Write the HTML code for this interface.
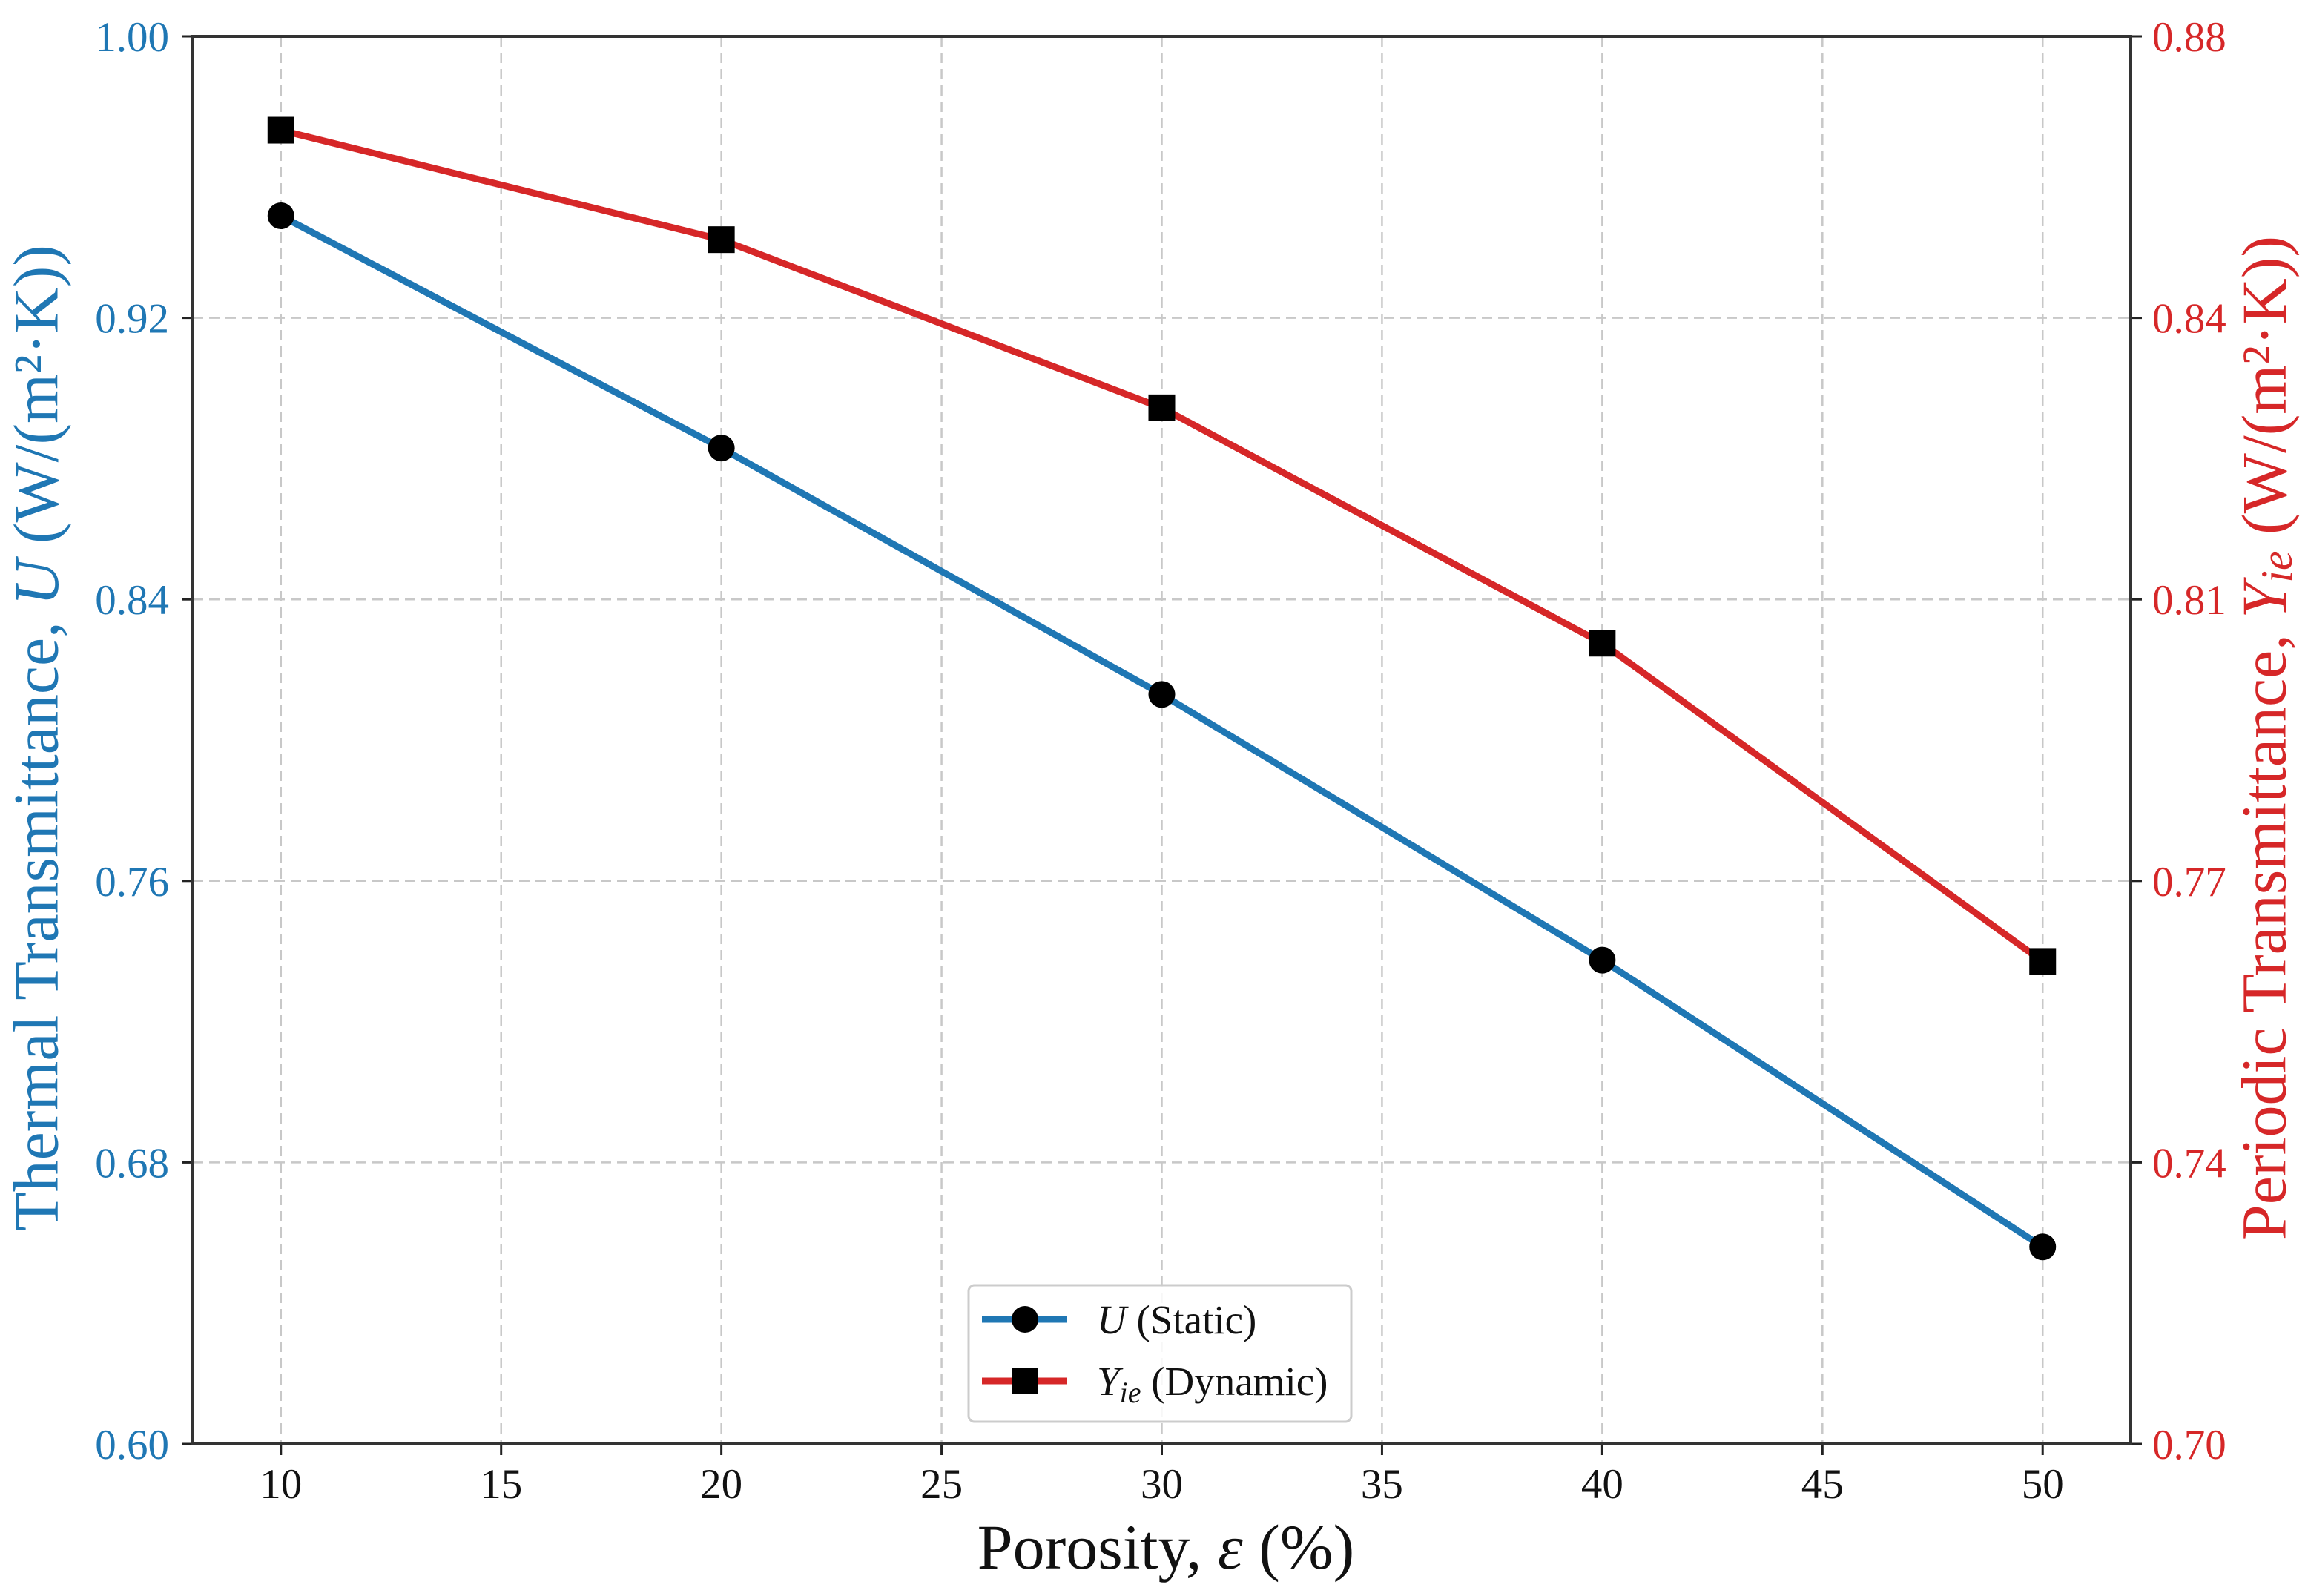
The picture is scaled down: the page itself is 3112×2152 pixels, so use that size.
<!DOCTYPE html>
<html><head><meta charset="utf-8"><style>
html,body{margin:0;padding:0;background:#fff;}
svg{display:block;font-family:"Liberation Serif",serif;}
</style></head><body>
<svg id="chart" width="3112" height="2152" viewBox="0 0 3112 2152">
<g id="grid"></g>
<g id="series"></g>
<g id="axes"></g>
<text x="58" y="995" transform="rotate(-90 58 995)" text-anchor="middle" dominant-baseline="middle" font-size="86" fill="#1f77b4">Thermal Transmittance, <tspan font-style="italic">U</tspan> (W/(m²·K))</text>
<text x="3062" y="995" transform="rotate(-90 3062 995)" text-anchor="middle" dominant-baseline="middle" font-size="86" fill="#d62728">Periodic Transmittance, <tspan font-style="italic">Y<tspan font-size="60" dy="14">ie</tspan></tspan><tspan dy="-14"> (W/(m²·K))</tspan></text>
<text x="1572" y="2115" text-anchor="middle" font-size="86" fill="#111">Porosity, <tspan font-style="italic">ε</tspan> (%)</text>
<g>
<rect x="1306" y="1733" width="516" height="184" rx="8" fill="#fff" fill-opacity="0.85" stroke="#ccc" stroke-width="3"/>
<g>
<line x1="1324" y1="1779" x2="1439" y2="1779" stroke="#1f77b4" stroke-width="9"/>
<circle cx="1382" cy="1779" r="18" fill="#000"/>
<text x="1479" y="1798" font-size="55" fill="#111"><tspan font-style="italic">U</tspan> (Static)</text>
</g>
<g>
<line x1="1324" y1="1862" x2="1439" y2="1862" stroke="#d62728" stroke-width="9"/>
<rect x="1364" y="1844" width="36" height="36" fill="#000"/>
<text x="1479" y="1881" font-size="55" fill="#111"><tspan font-style="italic">Y<tspan font-size="40" dy="10">ie</tspan></tspan><tspan dy="-10"> (Dynamic)</tspan></text>
</g>
</g>
</svg>
<script>
const xValues = [10, 20, 30, 40, 50];
const uValues = [0.949, 0.883, 0.813, 0.7375, 0.656];
const yieValues = [0.868, 0.854, 0.8325, 0.8024, 0.7617];
const xTicks = [10, 15, 20, 25, 30, 35, 40, 45, 50];
const leftTicks = ["0.60", "0.68", "0.76", "0.84", "0.92", "1.00"];
const rightTicks = ["0.70", "0.74", "0.77", "0.81", "0.84", "0.88"];

const L = 260, R = 2873, T = 49, B = 1947;
const NS = "http://www.w3.org/2000/svg";
const xS = v => L + (v - 8) / 44 * (R - L);
const yL = v => B - (v - 0.60) / 0.40 * (B - T);
const yR = v => B - (v - 0.70) / 0.18 * (B - T);
function mk(tag, attrs, parent) {
  const e = document.createElementNS(NS, tag);
  for (const k in attrs) e.setAttribute(k, attrs[k]);
  parent.appendChild(e);
  return e;
}
const grid = document.getElementById('grid');
const axes = document.getElementById('axes');
const series = document.getElementById('series');

xTicks.forEach(t => {
  const x = xS(t);
  const g = mk('line', {x1: x, x2: x, y1: T, y2: B, stroke: '#c8c8c8', 'stroke-width': 2.5, 'stroke-dasharray': '14 8'}, grid);
  
  
  const tk = mk('line', {x1: x, x2: x, y1: B, y2: B + 15, stroke: '#222', 'stroke-width': 3}, axes);
  
  
  const lb = mk('text', {x: x, y: 2020, 'text-anchor': 'middle', 'font-size': 57, fill: '#111'}, axes);
  lb.textContent = t;
  
  
});
leftTicks.forEach((t, i) => {
  const y = yL(0.60 + i * 0.08);
  if (i > 0 && i < leftTicks.length - 1) {
    const g = mk('line', {x1: L, x2: R, y1: y, y2: y, stroke: '#c8c8c8', 'stroke-width': 2.5, 'stroke-dasharray': '14 8'}, grid);
    
    
  }
  const tk = mk('line', {x1: L - 15, x2: L, y1: y, y2: y, stroke: '#222', 'stroke-width': 3}, axes);
  
  
  const lb = mk('text', {x: 228, y: y + 20, 'text-anchor': 'end', 'font-size': 57, fill: '#1f77b4'}, axes);
  lb.textContent = t;
  
  
});
rightTicks.forEach((t, i) => {
  const y = yR(0.70 + i * 0.036);
  const tk = mk('line', {x1: R, x2: R + 15, y1: y, y2: y, stroke: '#222', 'stroke-width': 3}, axes);
  
  
  const lb = mk('text', {x: 2902, y: y + 20, 'text-anchor': 'start', 'font-size': 57, fill: '#d62728'}, axes);
  lb.textContent = t;
  
  
});
const frame = mk('rect', {x: L, y: T, width: R - L, height: B - T, fill: 'none', stroke: '#333', 'stroke-width': 4}, axes);



const uLine = mk('polyline', {points: xValues.map((x, i) => xS(x) + ',' + yL(uValues[i])).join(' '), fill: 'none', stroke: '#1f77b4', 'stroke-width': 9, 'stroke-linejoin': 'round'}, series);


const yLine = mk('polyline', {points: xValues.map((x, i) => xS(x) + ',' + yR(yieValues[i])).join(' '), fill: 'none', stroke: '#d62728', 'stroke-width': 9, 'stroke-linejoin': 'round'}, series);


xValues.forEach((x, i) => {
  const c = mk('circle', {cx: xS(x), cy: yL(uValues[i]), r: 18, fill: '#000'}, series);
  
  
  const s = mk('rect', {x: xS(x) - 18, y: yR(yieValues[i]) - 18, width: 36, height: 36, fill: '#000'}, series);
  
  
});
</script>
</body></html>
